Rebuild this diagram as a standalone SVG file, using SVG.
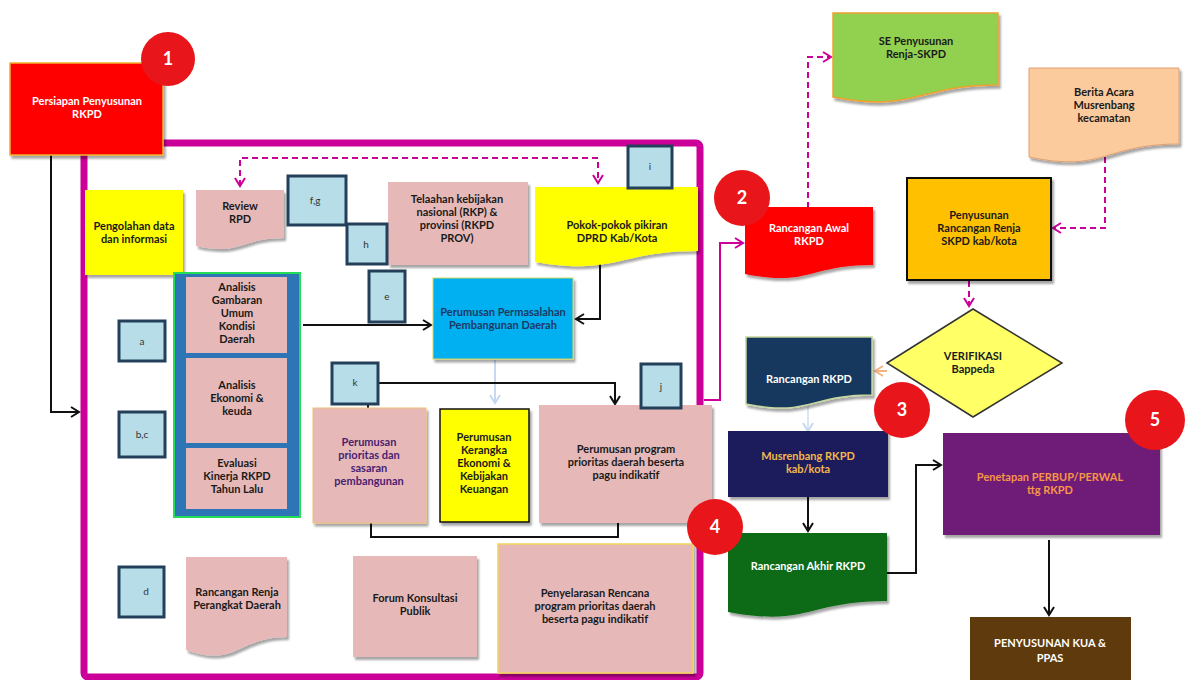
<svg xmlns="http://www.w3.org/2000/svg" width="1189" height="680" viewBox="0 0 1189 680">
<style>
text{font-family:Lato,"Open Sans","Liberation Sans",sans-serif;font-size:11px;font-weight:700;text-anchor:middle;fill:#1a1a1a}
.w{fill:#ffffff}
.pu{fill:#4a2170}
.nv{fill:#1f3864}
.or{fill:#f79646}
.gd{fill:#f2b84b}
.lbl{font-weight:400;font-size:10px;fill:#333}
.num{font-size:18px;fill:#fff}
.pink{fill:#e6b9b8}
.sb{fill:#b7dee8;stroke:#243f5a;stroke-width:3}
.blk{fill:none;stroke:#111;stroke-width:2}
.mag{fill:none;stroke:#cc0099;stroke-width:2;stroke-dasharray:6 4}
.circ{fill:#e8161b}
</style>
<defs>
<filter id="sh" x="-10%" y="-10%" width="130%" height="130%"><feDropShadow dx="2" dy="3" stdDeviation="1.2" flood-color="#000" flood-opacity="0.35"/></filter>
<marker id="ab" markerUnits="userSpaceOnUse" markerWidth="14" markerHeight="14" refX="10" refY="6" orient="auto-start-reverse"><path d="M2,1 L10,6 L2,11" fill="none" stroke="#111" stroke-width="2"/></marker>
<marker id="am" markerUnits="userSpaceOnUse" markerWidth="14" markerHeight="14" refX="10" refY="6" orient="auto-start-reverse"><path d="M2,1 L10,6 L2,11" fill="none" stroke="#cc0099" stroke-width="2"/></marker>
<marker id="al" markerUnits="userSpaceOnUse" markerWidth="14" markerHeight="14" refX="10" refY="6" orient="auto"><path d="M2,1 L10,6 L2,11" fill="none" stroke="#c6d9f1" stroke-width="2"/></marker>
<marker id="ao" markerUnits="userSpaceOnUse" markerWidth="14" markerHeight="14" refX="10" refY="6" orient="auto"><path d="M2,1 L10,6 L2,11" fill="none" stroke="#f4b183" stroke-width="2"/></marker>
</defs>
<rect width="1189" height="680" fill="#fff"/>
<g id="frame"><rect x="84" y="143" width="616" height="534" rx="4" fill="none" stroke="#cc0099" stroke-width="7"/></g>

<g id="connectors">
<path class="blk" d="M51,155 V412 H79" marker-end="url(#ab)"/>
<path class="mag" d="M240,186 V158 H598 V183" marker-start="url(#am)" marker-end="url(#am)"/>
<path class="blk" d="M303,325 H431" marker-end="url(#ab)"/>
<path class="blk" d="M600,262 V319 H576" marker-end="url(#ab)"/>
<path fill="none" stroke="#c6d9f1" stroke-width="2" d="M495,360 V403" marker-end="url(#al)"/>
<path class="blk" d="M378,383 H615 V404" marker-end="url(#ab)"/>
<path class="blk" d="M368,404 V408"/>
<path class="blk" d="M371,523 V537 H618 V523"/>
<path fill="none" stroke="#cc0099" stroke-width="2" d="M704,400 H720 V243 H743" marker-end="url(#am)"/>
<path class="mag" d="M808,208 V57 H831" marker-end="url(#am)"/>
<path class="mag" d="M1105,157 V228 H1053" marker-end="url(#am)"/>
<path class="mag" d="M969,281 V306" marker-end="url(#am)"/>
<path fill="none" stroke="#f4b183" stroke-width="2" d="M887,371 H875" marker-end="url(#ao)"/>
<path fill="none" stroke="#dce6f2" stroke-width="2" d="M808,405 V431" marker-end="url(#al)"/>
<path class="blk" d="M808,497 V531" marker-end="url(#ab)"/>
<path class="blk" d="M887,573 H916 V465 H941" marker-end="url(#ab)"/>
<path class="blk" d="M1049,540 V615" marker-end="url(#ab)"/>
</g>

<g id="persiapan"><rect x="10" y="63" width="153" height="92" fill="#ff0000" stroke="#f0b030" stroke-width="1.5" filter="url(#sh)"/><text class="w" x="87" y="105">Persiapan Penyusunan</text><text class="w" x="87" y="118">RKPD</text></g>
<g id="c1"><circle class="circ" cx="168" cy="59" r="27"/><text class="num" x="168" y="65">1</text></g>

<g id="pengolahan"><rect x="85" y="190" width="98" height="85" fill="#ffff00" filter="url(#sh)"/><text x="134" y="230">Pengolahan data</text><text x="134" y="243">dan informasi</text></g>
<g id="review"><path class="pink" d="M196,190 H284 V238 C240,238 240,256 196,246 Z" filter="url(#sh)"/><text x="240" y="210">Review</text><text x="240" y="223">RPD</text></g>
<g id="fg"><rect class="sb" x="288" y="176" width="58" height="49"/><text class="lbl" x="315" y="204">f,g</text></g>
<g id="telaahan"><rect class="pink" x="388" y="182" width="140" height="83" filter="url(#sh)"/><text x="457" y="203">Telaahan kebijakan</text><text x="457" y="216">nasional (RKP) &amp;</text><text x="457" y="229">provinsi (RKPD</text><text x="457" y="242">PROV)</text></g>
<g id="h"><rect class="sb" x="347" y="224" width="40" height="40"/><text class="lbl" x="366" y="248">h</text></g>
<g id="pokok"><path d="M535,187 H698 V251 C617,251 617,276 535,262 Z" fill="#ffff00" filter="url(#sh)"/><text x="617" y="229">Pokok-pokok pikiran</text><text x="617" y="242">DPRD Kab/Kota</text></g>
<g id="i"><rect class="sb" x="628" y="146" width="44" height="42"/><text class="lbl" x="650" y="170">i</text></g>
<g id="e"><rect class="sb" x="369" y="271" width="36" height="51"/><text class="lbl" x="387" y="300">e</text></g>
<g id="permasalahan"><rect x="433" y="278" width="140" height="81" fill="#00b0f0" stroke="#d8d860" stroke-width="1" filter="url(#sh)"/><text class="nv" x="503" y="316">Perumusan Permasalahan</text><text class="nv" x="503" y="329">Pembangunan Daerah</text></g>

<g id="analisis">
<rect x="174" y="273" width="126" height="244" fill="#2e75b6" stroke="#22dd55" stroke-width="2"/>
<rect class="pink" x="186" y="277" width="101" height="76"/>
<rect class="pink" x="186" y="358" width="101" height="85"/>
<rect class="pink" x="186" y="448" width="101" height="61"/>
<text x="237" y="291">Analisis</text><text x="237" y="304">Gambaran</text><text x="237" y="317">Umum</text><text x="237" y="330">Kondisi</text><text x="237" y="343">Daerah</text>
<text x="237" y="389">Analisis</text><text x="237" y="402">Ekonomi &amp;</text><text x="237" y="415">keuda</text>
<text x="237" y="467">Evaluasi</text><text x="237" y="480">Kinerja RKPD</text><text x="237" y="493">Tahun Lalu</text>
</g>
<g id="a"><rect class="sb" x="119" y="321" width="46" height="40"/><text class="lbl" x="142" y="345">a</text></g>
<g id="bc"><rect class="sb" x="119" y="412" width="46" height="45"/><text class="lbl" x="142" y="438">b,c</text></g>
<g id="k"><rect class="sb" x="332" y="363" width="46" height="41"/><text class="lbl" x="355" y="386">k</text></g>
<g id="prioritas"><rect class="pink" x="313" y="408" width="113" height="115" stroke="#f0c070" stroke-width="1" filter="url(#sh)"/><text class="pu" x="369" y="446">Perumusan</text><text class="pu" x="369" y="459">prioritas dan</text><text class="pu" x="369" y="472">sasaran</text><text class="pu" x="369" y="485">pembangunan</text></g>
<g id="kerangka"><rect x="440" y="409" width="89" height="113" fill="#ffff00" stroke="#111" stroke-width="1.5" filter="url(#sh)"/><text x="484" y="441">Perumusan</text><text x="484" y="454">Kerangka</text><text x="484" y="467">Ekonomi  &amp;</text><text x="484" y="480">Kebijakan</text><text x="484" y="493">Keuangan</text></g>
<g id="program"><rect class="pink" x="539" y="405" width="173" height="118" filter="url(#sh)"/><text x="626" y="453">Perumusan program</text><text x="626" y="466">prioritas daerah beserta</text><text x="626" y="479">pagu indikatif</text></g>
<g id="j"><rect class="sb" x="641" y="364" width="40" height="44"/><text class="lbl" x="661" y="390">j</text></g>
<g id="d"><rect class="sb" x="119" y="567" width="45" height="50"/><text class="lbl" x="146" y="595">d</text></g>
<g id="renja"><path class="pink" d="M186,557 H287 V637 C237,637 237,668 186,650 Z" filter="url(#sh)"/><text x="237" y="596">Rancangan Renja</text><text x="237" y="609">Perangkat Daerah</text></g>
<g id="forum"><rect class="pink" x="353" y="556" width="124" height="101" filter="url(#sh)"/><text x="415" y="602">Forum Konsultasi</text><text x="415" y="615">Publik</text></g>
<g id="penyelarasan"><rect class="pink" x="498" y="544" width="195" height="129" stroke="#f5d35a" stroke-width="1.5" filter="url(#sh)"/><text x="595" y="597">Penyelarasan Rencana</text><text x="595" y="610">program prioritas daerah</text><text x="595" y="623">beserta pagu indikatif</text></g>

<g id="se"><path d="M833,13 H998 V85 C916,85 916,113 833,97 Z" fill="#92d050" stroke="#f0a030" stroke-width="1.5" filter="url(#sh)"/><text x="916" y="45">SE Penyusunan</text><text x="916" y="58">Renja-SKPD</text></g>
<g id="berita"><path d="M1029,68 H1179 V144 C1104,144 1104,173 1029,157 Z" fill="#fbcb9e" stroke="#e0a070" stroke-width="1" filter="url(#sh)"/><text x="1104" y="96">Berita Acara</text><text x="1104" y="109">Musrenbang</text><text x="1104" y="122">kecamatan</text></g>
<g id="awal"><path d="M745,207 H873 V265 C809,265 809,287 745,274 Z" fill="#ff0000" filter="url(#sh)"/><text class="w" x="809" y="232">Rancangan Awal</text><text class="w" x="809" y="245">RKPD</text></g>
<g id="c2"><circle class="circ" cx="742" cy="198" r="28"/><text class="num" x="742" y="204">2</text></g>
<g id="penyusunan"><rect x="907" y="178" width="144" height="102" fill="#ffc000" stroke="#111" stroke-width="2" filter="url(#sh)"/><text x="979" y="219">Penyusunan</text><text x="979" y="232">Rancangan Renja</text><text x="979" y="245">SKPD kab/kota</text></g>
<g id="verifikasi"><path d="M887,363 L973,309 L1062,363 L973,417 Z" fill="#ffff66" stroke="#333" stroke-width="1.5"/><text x="973" y="360">VERIFIKASI</text><text x="973" y="373">Bappeda</text></g>
<g id="rancangan"><path d="M746,337 H872 V395 C809,395 809,417 746,404 Z" fill="#17375e" stroke="#c3d69b" stroke-width="1.5" filter="url(#sh)"/><text class="w" x="809" y="383">Rancangan RKPD</text></g>
<g id="musrenbang"><rect x="728" y="431" width="160" height="66" fill="#1f1c5c" filter="url(#sh)"/><text class="gd" x="808" y="460">Musrenbang RKPD</text><text class="gd" x="808" y="473">kab/kota</text></g>
<g id="c3"><circle class="circ" cx="902" cy="410" r="28"/><text class="num" x="902" y="416">3</text></g>
<g id="akhir"><path d="M728,533 H887 V601 C808,601 808,627 728,612 Z" fill="#0e6b16" filter="url(#sh)"/><text class="w" x="808" y="570">Rancangan Akhir RKPD</text></g>
<g id="c4"><circle class="circ" cx="715" cy="527" r="28"/><text class="num" x="715" y="533">4</text></g>
<g id="penetapan"><rect x="943" y="433" width="217" height="102" fill="#6e1b78" filter="url(#sh)"/><text class="or" x="1050" y="481">Penetapan PERBUP/PERWAL</text><text class="or" x="1050" y="494">ttg RKPD</text></g>
<g id="c5"><circle class="circ" cx="1155" cy="420" r="30"/><text class="num" x="1155" y="426">5</text></g>
<g id="kua"><rect x="970" y="617" width="161" height="66" fill="#5e3a0c"/><text class="w" x="1050" y="647">PENYUSUNAN KUA &amp;</text><text class="w" x="1050" y="662">PPAS</text></g>
</svg>
